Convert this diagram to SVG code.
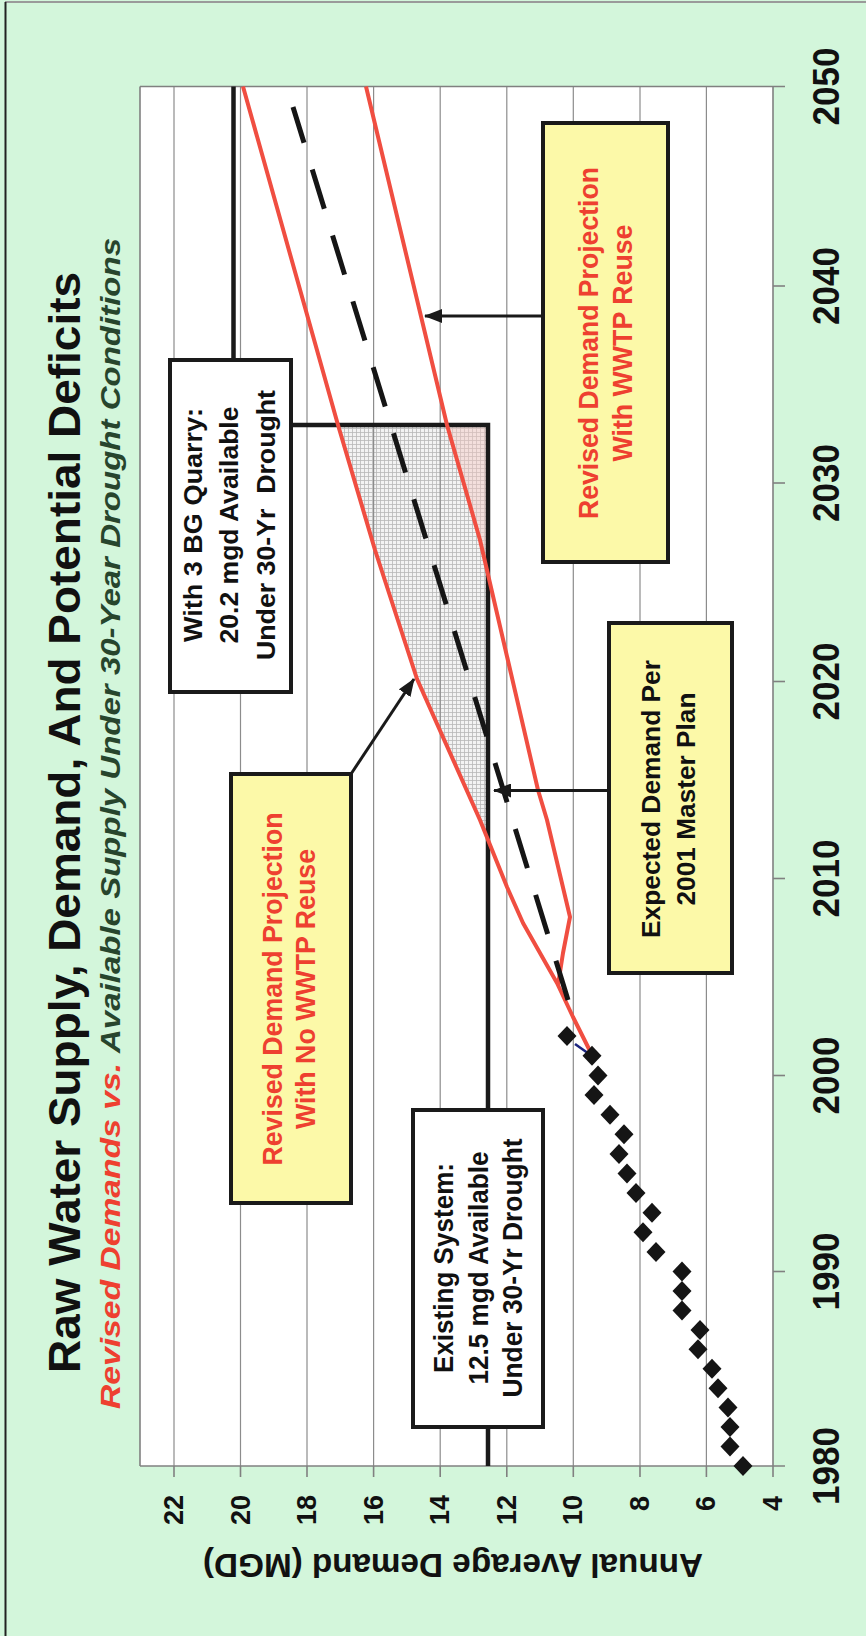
<svg xmlns="http://www.w3.org/2000/svg" width="866" height="1636" viewBox="0 0 866 1636">
<style>
.t{font-family:"Liberation Sans",Arial,sans-serif;font-weight:bold}
.grid{stroke:#8c8c8c;stroke-width:1.2;fill:none}
.ax{stroke:#808080;stroke-width:1.6;fill:none}
.sup{stroke:#1a1a1a;stroke-width:4.5;fill:none}
.red{stroke:#f04e41;stroke-width:4;fill:none;stroke-linejoin:round}
.box{stroke:#1a1a1a;stroke-width:4}
.yel{fill:#fcf9a8}
.wht{fill:#ffffff}
.rt{fill:#ee4030}
.bt{fill:#111111}
.conn{stroke:#1a1a1a;stroke-width:3;fill:none}
</style>
<defs>
<marker id="arr" markerUnits="userSpaceOnUse" markerWidth="18" markerHeight="14" refX="17" refY="7" orient="auto">
<path d="M0,0 L18,7 L0,14 Z" fill="#1a1a1a"/>
</marker>
<pattern id="hatch" width="4" height="4" patternUnits="userSpaceOnUse">
<rect width="4" height="4" fill="#f3f3f3"/>
<path d="M0,0.5H4M0.5,0V4" stroke="#b8b8b8" stroke-width="0.8"/>
</pattern>
<path id="dm" d="M0,-10 L9.5,0 L0,10 L-9.5,0 Z" fill="#151515"/>
</defs>

<rect x="0" y="0" width="866" height="1636" fill="#d3f6db"/>
<line x1="5" y1="2" x2="866" y2="2" stroke="#9a9a9a" stroke-width="2"/>
<line x1="5.5" y1="2" x2="5.5" y2="1636" stroke="#222" stroke-width="2"/>

<!-- plot area -->
<g id="plot">
<rect x="140" y="86.5" width="633" height="1379.5" fill="#ffffff"/>
<polygon points="338,425 375,550 417,679 480,820 488,840 488,425" fill="url(#hatch)"/>
<polygon points="447,425 480,540 488,574.5 488,425" fill="#f4c8c2" opacity="0.45"/>
<g class="grid">
<line x1="174" y1="86.5" x2="174" y2="1466"/>
<line x1="240.5" y1="86.5" x2="240.5" y2="1466"/>
<line x1="307" y1="86.5" x2="307" y2="1466"/>
<line x1="373.6" y1="86.5" x2="373.6" y2="1466"/>
<line x1="440.2" y1="86.5" x2="440.2" y2="1466"/>
<line x1="506.8" y1="86.5" x2="506.8" y2="1466"/>
<line x1="573.3" y1="86.5" x2="573.3" y2="1466"/>
<line x1="640" y1="86.5" x2="640" y2="1466"/>
<line x1="706.4" y1="86.5" x2="706.4" y2="1466"/>
</g>
<g class="ax">
<line x1="140" y1="86.5" x2="140" y2="1466"/>
<line x1="140" y1="86.5" x2="785" y2="86.5"/>
<line x1="773" y1="86.5" x2="773" y2="1477"/>
<line x1="140" y1="1466" x2="785" y2="1466"/>
<line x1="773" y1="286" x2="785" y2="286"/>
<line x1="773" y1="483" x2="785" y2="483"/>
<line x1="773" y1="681.5" x2="785" y2="681.5"/>
<line x1="773" y1="878.5" x2="785" y2="878.5"/>
<line x1="773" y1="1075.5" x2="785" y2="1075.5"/>
<line x1="773" y1="1271.5" x2="785" y2="1271.5"/>
<line x1="174" y1="1466" x2="174" y2="1477"/>
<line x1="240.5" y1="1466" x2="240.5" y2="1477"/>
<line x1="307" y1="1466" x2="307" y2="1477"/>
<line x1="373.6" y1="1466" x2="373.6" y2="1477"/>
<line x1="440.2" y1="1466" x2="440.2" y2="1477"/>
<line x1="506.8" y1="1466" x2="506.8" y2="1477"/>
<line x1="573.3" y1="1466" x2="573.3" y2="1477"/>
<line x1="640" y1="1466" x2="640" y2="1477"/>
<line x1="706.4" y1="1466" x2="706.4" y2="1477"/>
</g>
</g>

<!-- series -->
<g id="supply">
<polyline class="sup" points="488,1466 488,425 233.5,425 233.5,86.5"/>
</g>
<g id="demand-lines">
<polyline class="red" points="592,1055 573,1017 557,983 523,923 507,887 480,820 417,679 375,550 338,425 243,86.5"/>
<polyline class="red" points="558,985 563,953 570,917 547,820 538,790 480,540 447,425 366,86.5"/>
<line x1="568" y1="1000" x2="293" y2="107" stroke="#151515" stroke-width="5" stroke-dasharray="41 28"/>
<line x1="592" y1="1056" x2="575" y2="1044" stroke="#1a237e" stroke-width="2.5"/>
</g>
<g id="data-points">
<use href="#dm" x="743" y="1466"/>
<use href="#dm" x="730" y="1446.5"/>
<use href="#dm" x="730" y="1427.1"/>
<use href="#dm" x="728" y="1407.6"/>
<use href="#dm" x="718" y="1388.2"/>
<use href="#dm" x="712" y="1368.8"/>
<use href="#dm" x="698" y="1349.3"/>
<use href="#dm" x="700" y="1329.9"/>
<use href="#dm" x="682" y="1310.4"/>
<use href="#dm" x="682" y="1291"/>
<use href="#dm" x="682" y="1271.5"/>
<use href="#dm" x="656" y="1251.9"/>
<use href="#dm" x="643" y="1232.3"/>
<use href="#dm" x="652" y="1212.7"/>
<use href="#dm" x="636" y="1193.1"/>
<use href="#dm" x="627" y="1173.5"/>
<use href="#dm" x="619" y="1153.9"/>
<use href="#dm" x="624" y="1134.3"/>
<use href="#dm" x="610" y="1114.7"/>
<use href="#dm" x="594" y="1095.1"/>
<use href="#dm" x="598" y="1075.5"/>
<use href="#dm" x="592" y="1055.8"/>
<use href="#dm" x="567" y="1036.1"/>
</g>

<!-- connectors -->
<g id="connectors">
<line class="conn" x1="351" y1="774" x2="414" y2="679" marker-end="url(#arr)"/>
<line class="conn" x1="609" y1="790.5" x2="494" y2="790.5" marker-end="url(#arr)"/>
<line class="conn" x1="543" y1="316" x2="425" y2="316" marker-end="url(#arr)"/>
</g>

<!-- nodes -->
<g id="box-bg-quarry">
<rect class="box wht" x="170" y="360" width="121" height="332"/>
<text class="t bt" font-size="25" text-anchor="middle" transform="translate(202,525) rotate(-90)" textLength="234" lengthAdjust="spacingAndGlyphs">With 3 BG Quarry:</text>
<text class="t bt" font-size="25" text-anchor="middle" transform="translate(238,525) rotate(-90)" textLength="237" lengthAdjust="spacingAndGlyphs">20.2 mgd Available</text>
<text class="t bt" font-size="25" text-anchor="middle" transform="translate(275,525) rotate(-90)" textLength="270" lengthAdjust="spacingAndGlyphs" xml:space="preserve">Under 30-Yr  Drought</text>
</g>
<g id="box-existing">
<rect class="box wht" x="413" y="1110" width="130" height="317"/>
<text class="t bt" font-size="27" text-anchor="middle" transform="translate(453,1268) rotate(-90)" textLength="210" lengthAdjust="spacingAndGlyphs">Existing System:</text>
<text class="t bt" font-size="27" text-anchor="middle" transform="translate(488,1268) rotate(-90)" textLength="233" lengthAdjust="spacingAndGlyphs">12.5 mgd Available</text>
<text class="t bt" font-size="27" text-anchor="middle" transform="translate(522,1268) rotate(-90)" textLength="259" lengthAdjust="spacingAndGlyphs">Under 30-Yr Drought</text>
</g>
<g id="box-no-reuse">
<rect class="box yel" x="231" y="774" width="120" height="429"/>
<text class="t rt" font-size="27" text-anchor="middle" transform="translate(282,989) rotate(-90)" textLength="353" lengthAdjust="spacingAndGlyphs">Revised Demand Projection</text>
<text class="t rt" font-size="27" text-anchor="middle" transform="translate(315,989) rotate(-90)" textLength="280" lengthAdjust="spacingAndGlyphs">With No WWTP Reuse</text>
</g>
<g id="box-expected">
<rect class="box yel" x="609" y="623" width="123" height="350"/>
<text class="t bt" font-size="25" text-anchor="middle" transform="translate(660,799) rotate(-90)" textLength="278" lengthAdjust="spacingAndGlyphs">Expected Demand Per</text>
<text class="t bt" font-size="25" text-anchor="middle" transform="translate(695,799) rotate(-90)" textLength="213" lengthAdjust="spacingAndGlyphs">2001 Master Plan</text>
</g>
<g id="box-reuse">
<rect class="box yel" x="543" y="123" width="125" height="439"/>
<text class="t rt" font-size="27" text-anchor="middle" transform="translate(598,343) rotate(-90)" textLength="352" lengthAdjust="spacingAndGlyphs">Revised Demand Projection</text>
<text class="t rt" font-size="27" text-anchor="middle" transform="translate(632,343) rotate(-90)" textLength="237" lengthAdjust="spacingAndGlyphs">With WWTP Reuse</text>
</g>

<!-- titles -->
<g id="titles">
<text class="t" fill="#111" font-size="44" text-anchor="middle" transform="translate(80,822.5) rotate(-90)" textLength="1101" lengthAdjust="spacingAndGlyphs">Raw Water Supply, Demand, And Potential Deficits</text>
<text class="t" fill="#ee4030" font-style="italic" font-size="28" transform="translate(120,1409) rotate(-90)" textLength="346" lengthAdjust="spacingAndGlyphs">Revised Demands vs.</text>
<text class="t" fill="#27452d" font-style="italic" font-size="28" transform="translate(120,1053) rotate(-90)" textLength="815" lengthAdjust="spacingAndGlyphs">Available Supply Under 30-Year Drought Conditions</text>
</g>

<!-- axis labels -->
<g id="year-labels" class="t" fill="#111" font-size="36" text-anchor="middle">
<text transform="translate(839,86.5) rotate(-90)" textLength="78" lengthAdjust="spacingAndGlyphs">2050</text>
<text transform="translate(839,286) rotate(-90)" textLength="78" lengthAdjust="spacingAndGlyphs">2040</text>
<text transform="translate(839,483) rotate(-90)" textLength="78" lengthAdjust="spacingAndGlyphs">2030</text>
<text transform="translate(839,681.5) rotate(-90)" textLength="78" lengthAdjust="spacingAndGlyphs">2020</text>
<text transform="translate(839,878.5) rotate(-90)" textLength="78" lengthAdjust="spacingAndGlyphs">2010</text>
<text transform="translate(839,1075.5) rotate(-90)" textLength="78" lengthAdjust="spacingAndGlyphs">2000</text>
<text transform="translate(839,1271.5) rotate(-90)" textLength="78" lengthAdjust="spacingAndGlyphs">1990</text>
<text transform="translate(839,1466) rotate(-90)" textLength="78" lengthAdjust="spacingAndGlyphs">1980</text>
</g>
<g id="value-labels" class="t" fill="#111" font-size="28" text-anchor="end">
<text transform="translate(183,1495) rotate(-90)" textLength="30" lengthAdjust="spacingAndGlyphs">22</text>
<text transform="translate(249.5,1495) rotate(-90)" textLength="30" lengthAdjust="spacingAndGlyphs">20</text>
<text transform="translate(316,1495) rotate(-90)" textLength="30" lengthAdjust="spacingAndGlyphs">18</text>
<text transform="translate(382.6,1495) rotate(-90)" textLength="30" lengthAdjust="spacingAndGlyphs">16</text>
<text transform="translate(449.2,1495) rotate(-90)" textLength="30" lengthAdjust="spacingAndGlyphs">14</text>
<text transform="translate(515.8,1495) rotate(-90)" textLength="30" lengthAdjust="spacingAndGlyphs">12</text>
<text transform="translate(582.3,1495) rotate(-90)" textLength="30" lengthAdjust="spacingAndGlyphs">10</text>
<text transform="translate(649,1496) rotate(-90)" textLength="15" lengthAdjust="spacingAndGlyphs">8</text>
<text transform="translate(715.4,1496) rotate(-90)" textLength="15" lengthAdjust="spacingAndGlyphs">6</text>
<text transform="translate(782,1496) rotate(-90)" textLength="15" lengthAdjust="spacingAndGlyphs">4</text>
</g>
<text class="t" fill="#111" font-size="33" text-anchor="middle" transform="translate(453,1554) rotate(180)" textLength="500" lengthAdjust="spacingAndGlyphs">Annual Average Demand (MGD)</text>
</svg>
